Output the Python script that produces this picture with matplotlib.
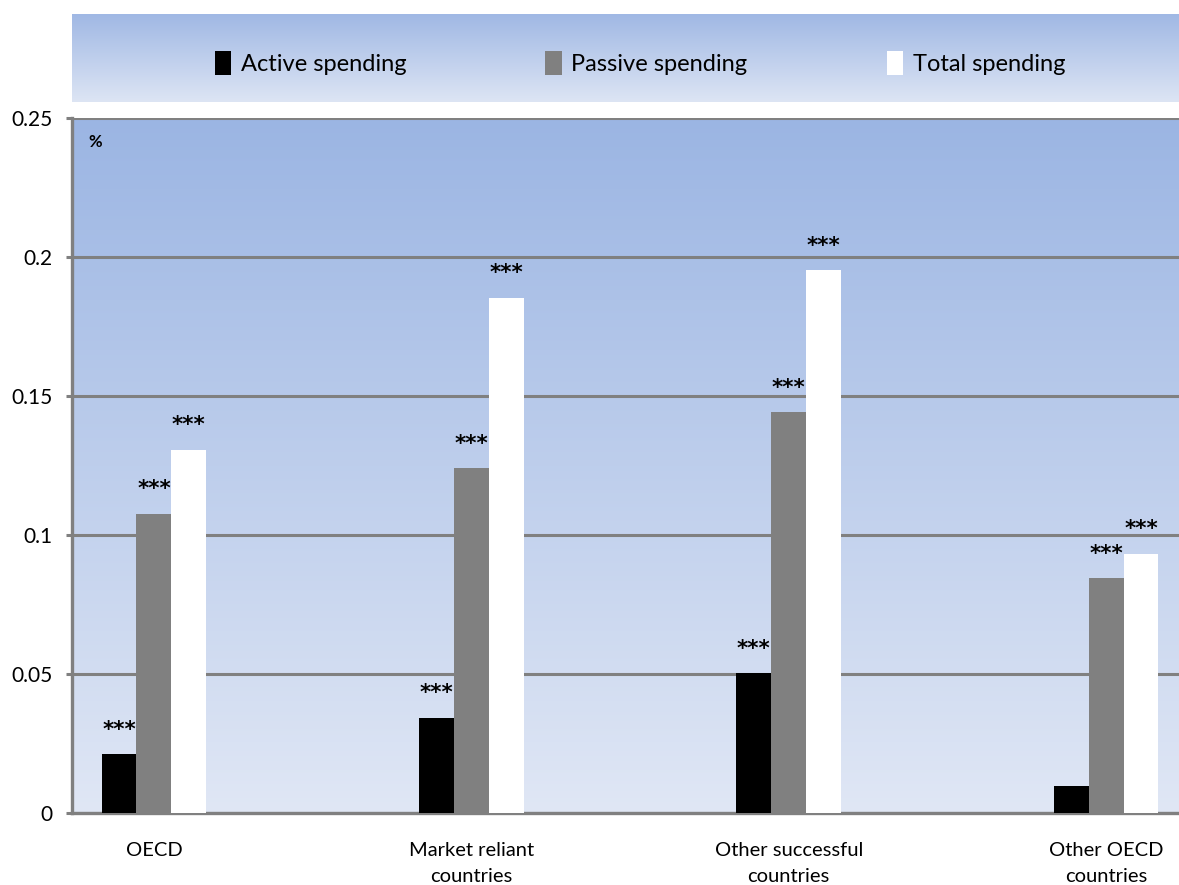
import numpy as np
import matplotlib
matplotlib.use('Agg')
import matplotlib.pyplot as plt
from matplotlib.colors import LinearSegmentedColormap

plt.rcParams['font.family'] = ['Lato', 'DejaVu Sans']

# Data
groups = ['OECD', 'Market reliant\ncountries', 'Other successful\ncountries', 'Other OECD\ncountries']
series_names = ['Active spending', 'Passive spending', 'Total spending']
active = [0.0212, 0.0342, 0.0502, 0.0097]
passive = [0.1076, 0.1241, 0.1442, 0.0845]
total = [0.1306, 0.1853, 0.1953, 0.0932]
# significance markers per series
active_sig = ['***', '***', '***', '']
passive_sig = ['***', '***', '***', '***']
total_sig = ['***', '***', '***', '***']

bar_colors = ['#000000', '#808080', '#ffffff']
grid_gray = '#808080'

fig = plt.figure(figsize=(11.79, 8.85), dpi=100)

# main axes
ax = fig.add_axes([0.0611, 0.0814, 0.939, 0.7853])
bg = LinearSegmentedColormap.from_list('bg', ['#e0e7f5', '#9bb5e3'])
ax.imshow(np.linspace(0, 1, 256).reshape(-1, 1), cmap=bg, aspect='auto',
          extent=[0, 1, 0, 1], transform=ax.transAxes, zorder=0, origin='lower')

x = np.arange(len(groups))
width = 0.11
bars = []
for i, (vals, sig) in enumerate(zip([active, passive, total],
                                    [active_sig, passive_sig, total_sig])):
    b = ax.bar(x + (i - 1) * width, vals, width, color=bar_colors[i],
               label=series_names[i], zorder=3, linewidth=0)
    bars.append(b)
    for xi, v, s in zip(x + (i - 1) * width, vals, sig):
        if s:
            ax.text(xi, v + 0.0088, s, ha='center', va='center',
                    fontsize=15.5, family='DejaVu Sans', fontweight='bold', zorder=4)

ax.set_xlim(-0.258, 3.23)
ax.set_ylim(0, 0.25)
ax.set_yticks([0, 0.05, 0.1, 0.15, 0.2, 0.25])
ax.set_yticklabels(['0', '0.05', '0.1', '0.15', '0.2', '0.25'])
ax.set_xticks(x)
ax.set_xticklabels(groups, linespacing=1.6)
ax.tick_params(axis='y', length=4, width=2.2, color=grid_gray, pad=10, labelsize=15)
ax.tick_params(axis='x', length=0, pad=21, labelsize=14.5)

ax.yaxis.grid(True, color=grid_gray, linewidth=2.2, zorder=1)
ax.set_axisbelow(True)
for s in ['top', 'right']:
    ax.spines[s].set_visible(False)
for s in ['left', 'bottom']:
    ax.spines[s].set_color(grid_gray)
    ax.spines[s].set_linewidth(2.4)
    ax.spines[s].set_zorder(2)

ax.text(0.021, 0.965, '%', transform=ax.transAxes, fontsize=12,
        fontweight='bold', ha='center', va='center', zorder=5)

# legend band on top
lax = fig.add_axes([0.0611, 0.8847, 0.939, 0.0994])
lbg = LinearSegmentedColormap.from_list('lbg', ['#dde5f4', '#a0b8e4'])
lax.imshow(np.linspace(0, 1, 256).reshape(-1, 1), cmap=lbg, aspect='auto',
           extent=[0, 1, 0, 1], origin='lower')
lax.set_xlim(0, 1)
lax.set_ylim(0, 1)
lax.axis('off')
lax.legend(handles=bars, labels=series_names, loc='center', ncol=3,
           frameon=False, fontsize=17, handlelength=0.7, handleheight=1.2,
           handletextpad=0.4, columnspacing=5.9, bbox_to_anchor=(0.513, 0.44))

fig.savefig('out.png', dpi=100)
